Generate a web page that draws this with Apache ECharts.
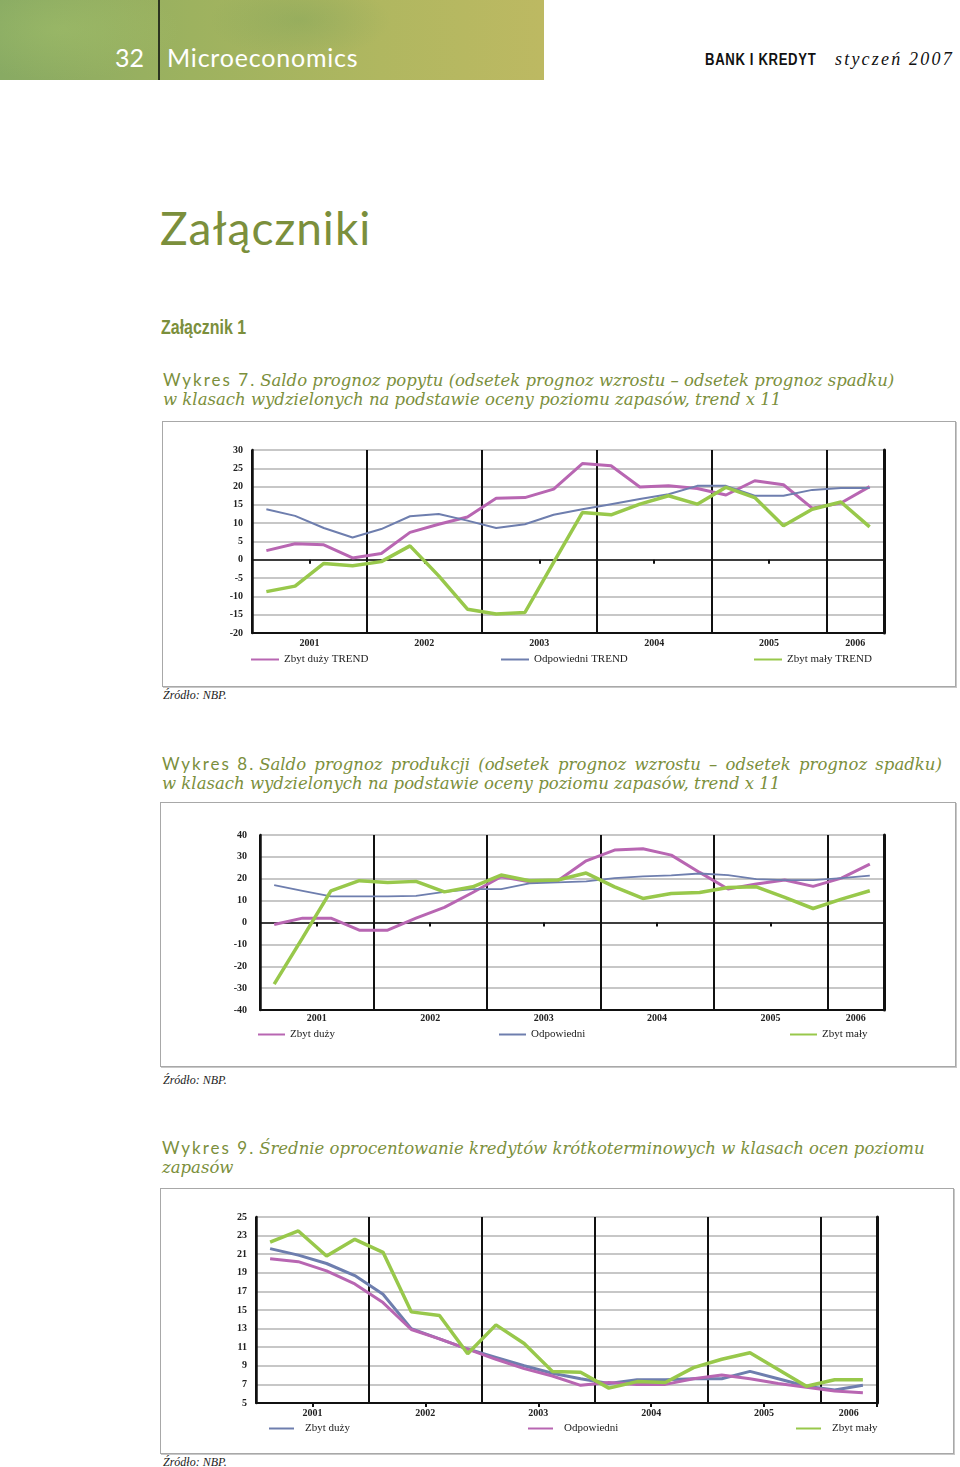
<!DOCTYPE html>
<html><head><meta charset="utf-8">
<script src="https://cdn.jsdelivr.net/npm/echarts@6/dist/echarts.min.js"></script>
<style>
html,body{margin:0;padding:0;background:#fff;}
#page{position:relative;width:960px;height:1467px;overflow:hidden;background:#fff;}
.abs{position:absolute;white-space:nowrap;}
#hdr{position:absolute;left:0;top:0;width:544px;height:80px;
 background:radial-gradient(ellipse 90px 40px at 300px 20px, rgba(120,160,90,0.35), rgba(0,0,0,0)),
 radial-gradient(ellipse 120px 50px at 60px 30px, rgba(170,200,110,0.35), rgba(0,0,0,0)),
 linear-gradient(90deg,#88aa63 0%,#9db25f 35%,#b0b760 70%,#bdb962 100%);}
#vline{position:absolute;left:158px;top:0;width:2px;height:80px;background:#2c3520;}
.hnum{font-family:Lato,'Open Sans',sans-serif;color:#fff;font-size:25px;}
.green{color:#7b8f3c;}
.wyk{font-family:Lato,'Open Sans',sans-serif;font-size:17px;letter-spacing:2px;}
.ital{font-family:'DejaVu Serif',serif;font-style:italic;font-size:16.5px;letter-spacing:0px;}
.src{font-family:'Liberation Serif',serif;font-style:italic;font-size:12px;color:#222;}
.box{position:absolute;border:1px solid #a8a8a8;box-shadow:1px 1px 0 #c8c8c8;background:#fff;}
.cond{display:inline-block;transform-origin:0 50%;}
</style></head>
<body><div id="page">
<div id="hdr"></div><div id="vline"></div>
<div class="abs hnum" style="left:115px;top:42px;">32</div>
<div class="abs hnum" style="left:167px;top:42px;letter-spacing:0.8px;">Microeconomics</div>
<div class="abs cond" style="left:705px;top:51px;font-family:'Liberation Sans',sans-serif;font-weight:bold;font-size:16px;letter-spacing:0.8px;color:#111;transform:scaleX(0.82);">BANK I KREDYT</div>
<div class="abs" style="left:835px;top:49px;font-family:'Liberation Serif',serif;font-style:italic;font-size:18px;letter-spacing:2.2px;color:#111;">styczeń 2007</div>

<div class="abs green" style="left:160px;top:200px;font-family:Lato,'Open Sans',sans-serif;font-size:46px;letter-spacing:1px;">Załączniki</div>
<div class="abs green cond" style="left:161px;top:315px;font-family:'Liberation Sans',sans-serif;font-weight:bold;font-size:21px;transform:scaleX(0.76);">Załącznik 1</div>

<div class="abs green" style="left:163px;top:370px;line-height:19px;"><span class="wyk">Wykres 7.</span> <span class="ital">Saldo prognoz popytu (odsetek prognoz wzrostu – odsetek prognoz spadku)</span><br><span class="ital">w klasach wydzielonych na podstawie oceny poziomu zapasów, trend x 11</span></div>
<div class="box" id="c1" style="left:162px;top:421px;width:792px;height:264px;"></div>
<div class="abs src" style="left:163px;top:688px;">Źródło: NBP.</div>

<div class="abs green" style="left:162px;top:754px;line-height:19px;"><span class="wyk">Wykres 8.</span> <span class="ital" style="word-spacing:3px;">Saldo prognoz produkcji (odsetek prognoz wzrostu – odsetek prognoz spadku)</span><br><span class="ital">w klasach wydzielonych na podstawie oceny poziomu zapasów, trend x 11</span></div>
<div class="box" id="c2" style="left:160px;top:802px;width:794px;height:263px;"></div>
<div class="abs src" style="left:163px;top:1073px;">Źródło: NBP.</div>

<div class="abs green" style="left:162px;top:1138px;line-height:19px;"><span class="wyk">Wykres 9.</span> <span class="ital">Średnie oprocentowanie kredytów krótkoterminowych w klasach ocen poziomu</span><br><span class="ital">zapasów</span></div>
<div class="box" id="c3" style="left:160px;top:1188px;width:792px;height:264px;"></div>
<div class="abs src" style="left:163px;top:1455px;">Źródło: NBP.</div>
</div>
<script>
// ---------- DATA ----------
const quarters = ['2001Q1','2001Q2','2001Q3','2001Q4','2002Q1','2002Q2','2002Q3','2002Q4',
  '2003Q1','2003Q2','2003Q3','2003Q4','2004Q1','2004Q2','2004Q3','2004Q4',
  '2005Q1','2005Q2','2005Q3','2005Q4','2006Q1','2006Q2'];
const yearLabels = ['2001','2002','2003','2004','2005','2006'];

// Wykres 7
const ticks7 = [-20,-15,-10,-5,0,5,10,15,20,25,30];
const names7 = ['Zbyt duży TREND','Odpowiedni TREND','Zbyt mały TREND'];
const w7_duzy = [2.5,4.4,4.1,0.5,1.7,7.5,9.7,11.7,16.8,17.0,19.3,26.3,25.7,19.9,20.2,19.5,17.7,21.6,20.5,14.1,15.5,20.0];
const w7_odp  = [13.8,12.0,8.7,6.1,8.4,11.9,12.5,10.7,8.7,9.7,12.3,13.8,15.2,16.6,17.9,20.2,20.2,17.5,17.5,19.1,19.6,19.6];
const w7_maly = [-8.7,-7.2,-1.0,-1.6,-0.5,3.8,-4.4,-13.5,-14.8,-14.4,-0.7,12.9,12.3,15.2,17.5,15.2,19.8,17.0,9.3,13.8,15.8,9.0];

// Wykres 8
const ticks8 = [-40,-30,-20,-10,0,10,20,30,40];
const names8 = ['Zbyt duży','Odpowiedni','Zbyt mały'];
const w8_duzy = [-0.9,2.0,2.0,-3.5,-3.5,2.0,6.9,13.7,20.9,18.6,19.1,28.2,33.1,33.7,30.8,22.9,15.3,17.6,19.4,16.5,20.3,26.7];
const w8_odp  = [17.1,14.5,11.9,11.9,11.9,12.2,14.0,15.3,15.3,17.9,18.3,18.8,20.3,21.1,21.5,22.4,21.7,19.8,19.4,19.4,20.3,21.4];
const w8_maly = [-28.2,-7.0,14.5,19.1,18.3,18.8,14.0,16.3,21.7,19.1,19.4,22.6,16.3,11.0,13.3,13.7,16.0,16.3,11.5,6.4,10.7,14.5];

// Wykres 9
const ticks9 = [5,7,9,11,13,15,17,19,21,23,25];
const names9 = ['Zbyt duży','Odpowiedni','Zbyt mały'];
const w9_duzy = [21.6,20.9,20.0,18.7,16.7,13.0,11.9,10.8,9.9,9.0,8.2,7.6,7.1,7.5,7.5,7.6,7.6,8.4,7.6,6.8,6.4,6.9];
const w9_odp  = [20.5,20.2,19.2,17.8,15.8,12.9,11.9,10.8,9.7,8.7,7.9,6.9,7.2,7.0,7.0,7.6,8.0,7.6,7.1,6.7,6.3,6.1];
const w9_maly = [22.3,23.5,20.8,22.6,21.2,14.8,14.4,10.3,13.4,11.4,8.4,8.3,6.6,7.3,7.2,8.8,9.7,10.4,8.6,6.8,7.5,7.5];

// ---------- STYLE ----------
const PINK = '#b866b2', BLUE = '#6e7eae', GREEN = '#98c84b';
const FONT = "'Liberation Serif', serif";

// year centres in quarter units, derived from the category list
const yearCenter = {};
yearLabels.forEach(y => {
  const idx = quarters.map((q,i)=>q.startsWith(y)?i:-1).filter(i=>i>=0);
  yearCenter[(idx[0] + idx[idx.length-1] + 1) / 2] = y;
});

function build(el, cfg) {
  const chart = echarts.init(document.getElementById(el), null, {renderer:'canvas'});
  const t = cfg.ticks;
  const yBase = {type:'value', min:t[0], max:t[t.length-1], interval:t[1]-t[0]};
  const legends = cfg.series.map((s,i)=>({
    data:[s.name], left:cfg.legendLeft[i], top:cfg.legendTop, padding:0,
    icon:'rect', itemWidth:cfg.legendIconW, itemHeight:2, itemGap:0,
    textStyle:{fontFamily:FONT, fontSize:11, color:'#222', padding:[0,0,0,cfg.legendTextGap]},
    selectedMode:false
  }));
  chart.setOption({
    animation:false,
    grid:{left:cfg.grid[0], right:cfg.grid[1], top:cfg.grid[2], bottom:cfg.grid[3]},
    legend: legends,
    xAxis:[
      {type:'category', data:quarters, boundaryGap:true,
       axisLine:{onZero:true, lineStyle:{color:'#111', width:cfg.zeroLineW}},
       axisTick:{show:true, interval:(i)=> i%4===2, length:4, inside:false, lineStyle:{color:'#111', width:2}},
       axisLabel:{show:false},
       splitLine:{show:true, interval:(i)=> i%4===0, lineStyle:{color:'#111', width:2}}},
      {type:'value', min:0, max:quarters.length, interval:1, position:'bottom',
       axisLine:{show:cfg.bottomLine, onZero:false, lineStyle:{color:'#111', width:2}},
       axisTick:{show:false}, splitLine:{show:false},
       axisLabel:{margin:cfg.yearMargin, fontFamily:FONT, fontSize:10, fontWeight:'bold', color:'#222',
         formatter:(v)=> yearCenter[v] || ''}}
    ],
    yAxis:[
      Object.assign({}, yBase, {position:'left',
        axisLine:{show:true, onZero:false, lineStyle:{color:'#111', width:2.5}},
        axisTick:{show:false},
        axisLabel:{margin:cfg.yMargin, fontFamily:FONT, fontSize:10, fontWeight:'bold', color:'#222'},
        splitLine:{show:true, lineStyle:{color:'#b4b4b4', width:1.5}}}),
      Object.assign({}, yBase, {position:'right',
        axisLine:{show:true, onZero:false, lineStyle:{color:'#111', width:3}},
        axisTick:{show:false}, axisLabel:{show:false}, splitLine:{show:false}})
    ],
    series: cfg.series.map(s=>({
      type:'line', name:s.name, data:s.data, xAxisIndex:0, yAxisIndex:0,
      symbol:'none', smooth:false, color:s.color, z:s.z||2,
      lineStyle:{color:s.color, width:s.width}
    }))
  });
}

build('c1', {
  ticks:ticks7, grid:[89,71,28,53], yMargin:9, yearMargin:5, zeroLineW:1.5, bottomLine:true,
  legendLeft:[88,338,591], legendTop:232, legendIconW:28, legendTextGap:0,
  series:[
    {name:names7[0], data:w7_duzy, color:PINK, width:3},
    {name:names7[1], data:w7_odp, color:BLUE, width:2},
    {name:names7[2], data:w7_maly, color:GREEN, width:3.5}
  ]
});
build('c2', {
  ticks:ticks8, grid:[99,71,32,56], yMargin:13, yearMargin:3, zeroLineW:1.5, bottomLine:true,
  legendLeft:[97,338,629], legendTop:226, legendIconW:27, legendTextGap:0,
  series:[
    {name:names8[0], data:w8_duzy, color:PINK, width:3},
    {name:names8[1], data:w8_odp, color:BLUE, width:1.8},
    {name:names8[2], data:w8_maly, color:GREEN, width:3.5}
  ]
});
build('c3', {
  ticks:ticks9, grid:[95,76,28,50], yMargin:9, yearMargin:5, zeroLineW:2, bottomLine:false,
  legendLeft:[108,367,635], legendTop:234, legendIconW:25, legendTextGap:6,
  series:[
    {name:names9[0], data:w9_duzy, color:BLUE, width:3},
    {name:names9[1], data:w9_odp, color:PINK, width:3},
    {name:names9[2], data:w9_maly, color:GREEN, width:3.5}
  ]
});
</script>
</body></html>
